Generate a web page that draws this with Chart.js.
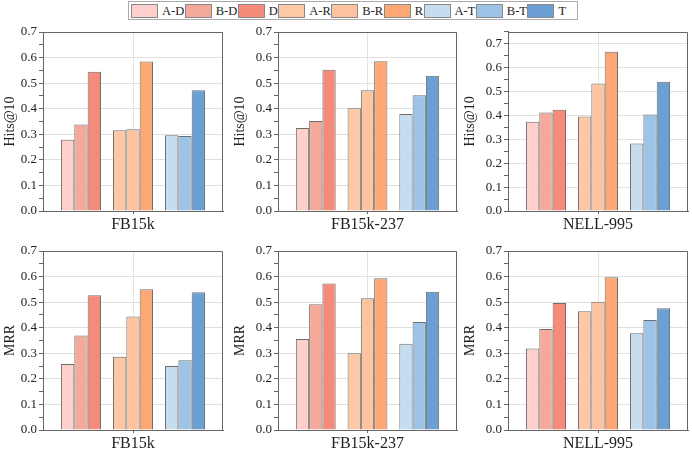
<!DOCTYPE html>
<html>
<head>
<meta charset="utf-8">
<script src="https://cdn.jsdelivr.net/npm/chart.js@4.4.0/dist/chart.umd.min.js"></script>
<style>
  body { margin: 0; background: #fff; }
  #wrap { position: relative; width: 692px; height: 453px; font-family: "Liberation Serif", serif; color: #222; }
  #wrap canvas { position: absolute; }
  #legend {
    position: absolute; left: 128px; top: 1px; width: 446px; height: 17px;
    border: 1px solid #aaa; display: flex; align-items: center; padding-left: 2px;
    font-size: 12.5px; box-sizing: content-box;
  }
  #legend .item { display: flex; align-items: center; }
  #legend .box { width: 25px; height: 12px; border: 1px solid #888; margin-right: 4px; }
  #legend .txt { margin-right: 0.5px; line-height: 14px; }
</style>
</head>
<body>
<div id="wrap">
  <div id="legend"></div>
  <canvas id="c1" width="230" height="212" style="left:0px;top:22px"></canvas>
  <canvas id="c2" width="230" height="212" style="left:230px;top:22px"></canvas>
  <canvas id="c3" width="232" height="212" style="left:460px;top:22px"></canvas>
  <canvas id="c4" width="230" height="217" style="left:0px;top:236px"></canvas>
  <canvas id="c5" width="230" height="217" style="left:230px;top:236px"></canvas>
  <canvas id="c6" width="232" height="217" style="left:460px;top:236px"></canvas>
</div>
<script>
// legend order: A-D, B-D, D, A-R, B-R, R, A-T, B-T, T
const seriesNames = ["A-D", "B-D", "D", "A-R", "B-R", "R", "A-T", "B-T", "T"];
const seriesColors = ["#ffcfcb", "#f4a99a", "#f68a7b", "#fec8a6", "#fec3a0", "#fda874", "#c6dcef", "#9dc3e6", "#6c9fd3"];
const groupPositions = [1, 2, 3]; // D group, R group, T group

// Hits@10 values
const hitsFB15k    = [0.279, 0.338, 0.545, 0.316, 0.320, 0.585, 0.296, 0.293, 0.472];
const hitsFB15k237 = [0.325, 0.352, 0.552, 0.402, 0.472, 0.586, 0.379, 0.453, 0.529];
const hitsNELL995  = [0.374, 0.412, 0.424, 0.395, 0.534, 0.667, 0.283, 0.404, 0.541];

// MRR values
const mrrFB15k     = [0.258, 0.370, 0.527, 0.286, 0.444, 0.550, 0.250, 0.273, 0.539];
const mrrFB15k237  = [0.356, 0.492, 0.573, 0.300, 0.515, 0.593, 0.337, 0.422, 0.541];
const mrrNELL995   = [0.319, 0.395, 0.497, 0.464, 0.502, 0.597, 0.378, 0.430, 0.476];

Chart.defaults.font.family = "'Liberation Serif', serif";
Chart.defaults.color = "#222";

// ✅ Build legend
const legendEl = document.getElementById("legend");
seriesNames.forEach((name, i) => {
    const item = document.createElement("div");
    item.className = "item";
    item.innerHTML = `<span class="box" style="background:${seriesColors[i]}"></span><span class="txt">${name}</span>`;
    legendEl.appendChild(item);
});

// ✅ Frame on top and right side of the plot area
const framePlugin = {
    id: "frame",
    afterDatasetsDraw(chart) {
        const { ctx, chartArea: a } = chart;
        ctx.save();
        ctx.strokeStyle = "#666";
        ctx.lineWidth = 1;
        ctx.beginPath();
        ctx.moveTo(Math.round(a.left) + 0.5, Math.round(a.top) + 0.5);
        ctx.lineTo(Math.round(a.right) - 0.5, Math.round(a.top) + 0.5);
        ctx.lineTo(Math.round(a.right) - 0.5, Math.round(a.bottom));
        ctx.stroke();
        ctx.restore();
    }
};

function makePanel(id, values, dataset, metric, yMax, yAxisWidth, padRight, padTop) {
    // 3 datasets: A-variant, B-variant, full model; one bar per group
    const datasets = [0, 1, 2].map(k => ({
        label: seriesNames[k],
        data: groupPositions.map((x, g) => ({ x: x, y: values[g * 3 + k] })),
        backgroundColor: groupPositions.map((x, g) => seriesColors[g * 3 + k]),
        borderColor: "#6e6e6e",
        borderWidth: 1,
        barPercentage: 1,
        categoryPercentage: 0.77
    }));

    new Chart(document.getElementById(id), {
        type: "bar",
        data: { datasets: datasets },
        plugins: [framePlugin],
        options: {
            responsive: false,
            animation: false,
            layout: { padding: { top: padTop, right: padRight, left: 0, bottom: 0 } },
            plugins: { legend: { display: false }, tooltip: { enabled: false } },
            scales: {
                x: {
                    type: "linear",
                    min: 0.27,
                    max: 3.73,
                    offset: false,
                    afterBuildTicks: axis => { axis.ticks = [{ value: 2 }]; },
                    afterFit: axis => { axis.height = 23; },
                    ticks: {
                        autoSkip: false,
                        maxRotation: 0,
                        padding: 1,
                        font: { size: 16 },
                        callback: () => dataset
                    },
                    grid: { offset: false, color: "#e3e3e3", tickLength: 3, tickColor: "#666" },
                    border: { display: true, color: "#666" }
                },
                y: {
                    min: 0,
                    max: yMax,
                    afterFit: axis => { axis.width = yAxisWidth; },
                    ticks: {
                        stepSize: 0.05,
                        maxTicksLimit: 100,
                        autoSkip: false,
                        padding: 2,
                        font: { size: 13 },
                        callback: v => (Math.round(v * 100) % 10 === 0 ? v.toFixed(1) : "")
                    },
                    grid: {
                        tickLength: 4,
                        tickColor: "#666",
                        color: c => (Math.round(c.tick.value * 100) % 10 === 0 ? "#e0e0e0" : "rgba(0,0,0,0)")
                    },
                    border: { display: true, color: "#666" },
                    title: { display: true, text: metric, font: { size: 14 }, padding: { top: 2, bottom: 0 } }
                }
            }
        }
    });
}

makePanel("c1", hitsFB15k, "FB15k", "Hits@10", 0.7, 43, 7, 10);
makePanel("c2", hitsFB15k237, "FB15k-237", "Hits@10", 0.7, 48, 3, 10);
makePanel("c3", hitsNELL995, "NELL-995", "Hits@10", 0.75, 48, 4, 9);
makePanel("c4", mrrFB15k, "FB15k", "MRR", 0.7, 43, 7, 15);
makePanel("c5", mrrFB15k237, "FB15k-237", "MRR", 0.7, 48, 3, 15);
makePanel("c6", mrrNELL995, "NELL-995", "MRR", 0.7, 48, 4, 15);
</script>
</body>
</html>
